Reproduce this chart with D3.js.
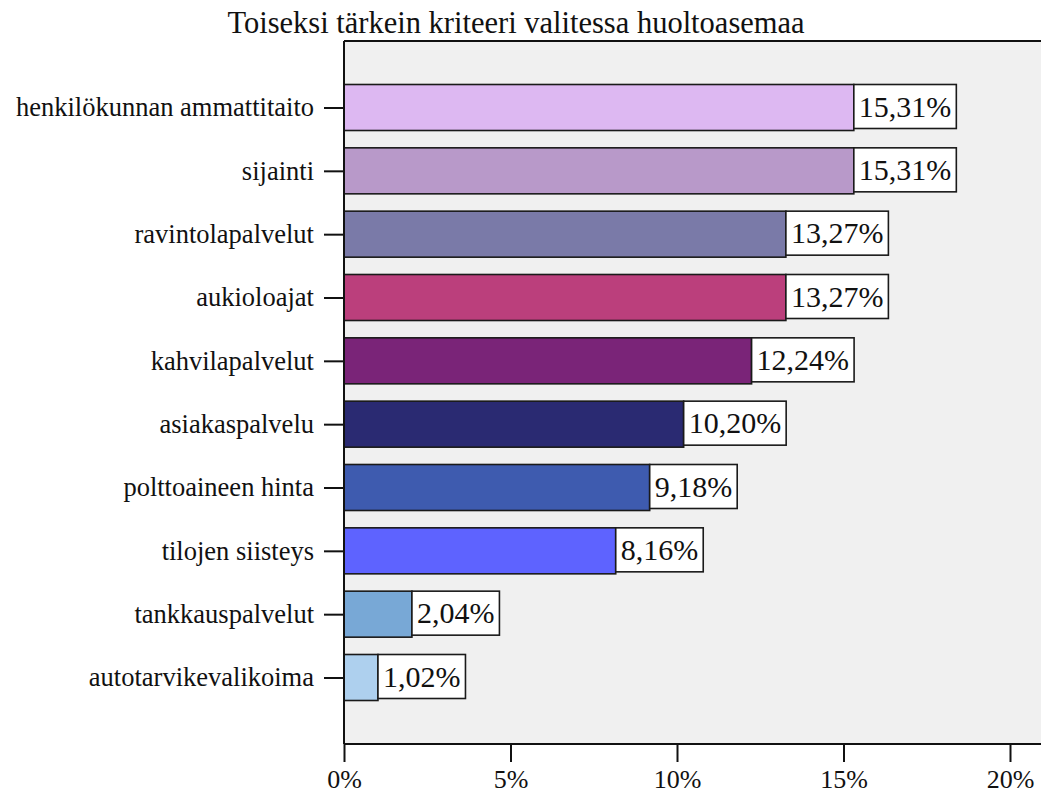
<!DOCTYPE html>
<html>
<head>
<meta charset="utf-8">
<script src="https://cdn.jsdelivr.net/npm/d3@7"></script>
<style>
  html, body { margin: 0; padding: 0; background: #ffffff; }
  svg { display: block; }
</style>
</head>
<body>
<svg id="chart" width="1041" height="794"></svg>
<script>
// Second most important criterion when choosing a service station (% of respondents)
const categories = [
  "henkilökunnan ammattitaito",
  "sijainti",
  "ravintolapalvelut",
  "aukioloajat",
  "kahvilapalvelut",
  "asiakaspalvelu",
  "polttoaineen hinta",
  "tilojen siisteys",
  "tankkauspalvelut",
  "autotarvikevalikoima"
];
const values = [15.31, 15.31, 13.27, 13.27, 12.24, 10.20, 9.18, 8.16, 2.04, 1.02];
const barColors = [
  "#ddb8f2", "#b899c9", "#7a7aa8", "#bb3f7c", "#7a2478",
  "#2a2a72", "#3e5baf", "#5e63ff", "#78a8d6", "#aed0ee"
];
const xTicks = [0, 5, 10, 15, 20];
const title = "Toiseksi tärkein kriteeri valitessa huoltoasemaa";

const serif = "'Liberation Serif', 'Times New Roman', Times, serif";
const ink = "#111111";

const svg = d3.select("#chart");
const plotLeft = 344, plotTop = 41, plotBottom = 744, plotRight = 1060;

const x = d3.scaleLinear().domain([0, 20]).range([plotLeft, plotLeft + 666]);
const y = d3.scalePoint().domain(categories).range([plotTop, plotBottom]).padding(1.05);
const barH = 46;

// plot background
svg.append("rect")
  .attr("x", plotLeft).attr("y", plotTop)
  .attr("width", plotRight - plotLeft).attr("height", plotBottom - plotTop)
  .attr("fill", "#f0f0f0");

// title
svg.append("text")
  .attr("x", 516).attr("y", 33)
  .attr("text-anchor", "middle")
  .style("font-family", serif)
  .style("font-size", "30.5px")
  .style("fill", ink)
  .text(title);

// bars
svg.append("g").selectAll("rect")
  .data(values)
  .join("rect")
  .attr("x", x(0))
  .attr("y", (d, i) => y(categories[i]) - barH / 2)
  .attr("width", d => x(d) - x(0))
  .attr("height", barH)
  .attr("fill", (d, i) => barColors[i])
  .attr("stroke", "#1a1a1a")
  .attr("stroke-width", 1.6);

// value labels in white boxes
const fmt = v => v.toFixed(2).replace(".", ",") + "%";
const lab = svg.append("g").selectAll("g")
  .data(values)
  .join("g")
  .attr("transform", (d, i) => `translate(${x(d)},${y(categories[i]) - 1})`);
lab.append("text")
  .attr("x", 5).attr("y", 10)
  .style("font-family", serif)
  .style("font-size", "30px")
  .style("fill", ink)
  .text(d => fmt(d));
lab.each(function () {
  const g = d3.select(this);
  const w = g.select("text").node().getComputedTextLength();
  g.insert("rect", "text")
    .attr("x", 0).attr("y", -22)
    .attr("width", w + 10).attr("height", 44)
    .attr("fill", "#ffffff")
    .attr("stroke", "#1a1a1a")
    .attr("stroke-width", 1.6);
});

// axes
const xAxis = d3.axisBottom(x)
  .tickValues(xTicks)
  .tickFormat(d => d + "%")
  .tickSize(18)
  .tickPadding(8);
const gx = svg.append("g").attr("transform", `translate(0,${plotBottom})`).call(xAxis);
gx.select(".domain").remove();
gx.selectAll("line").attr("stroke", ink).attr("stroke-width", 2);
gx.selectAll("text")
  .style("font-family", serif).style("font-size", "26px").style("fill", ink);

const yAxis = d3.axisLeft(y).tickSize(20).tickPadding(10);
const gy = svg.append("g").attr("transform", `translate(${plotLeft},0)`).call(yAxis);
gy.select(".domain").remove();
gy.selectAll("line").attr("stroke", ink).attr("stroke-width", 2);
gy.selectAll("text")
  .style("font-family", serif).style("font-size", "26.5px").style("fill", ink);

// frame lines: left axis, bottom axis, top border
svg.append("line").attr("x1", plotLeft).attr("x2", plotLeft).attr("y1", plotTop).attr("y2", plotBottom)
  .attr("stroke", ink).attr("stroke-width", 2);
svg.append("line").attr("x1", plotLeft).attr("x2", plotRight).attr("y1", plotBottom).attr("y2", plotBottom)
  .attr("stroke", ink).attr("stroke-width", 2);
svg.append("line").attr("x1", plotLeft).attr("x2", plotRight).attr("y1", plotTop).attr("y2", plotTop)
  .attr("stroke", ink).attr("stroke-width", 2);
</script>
</body>
</html>
